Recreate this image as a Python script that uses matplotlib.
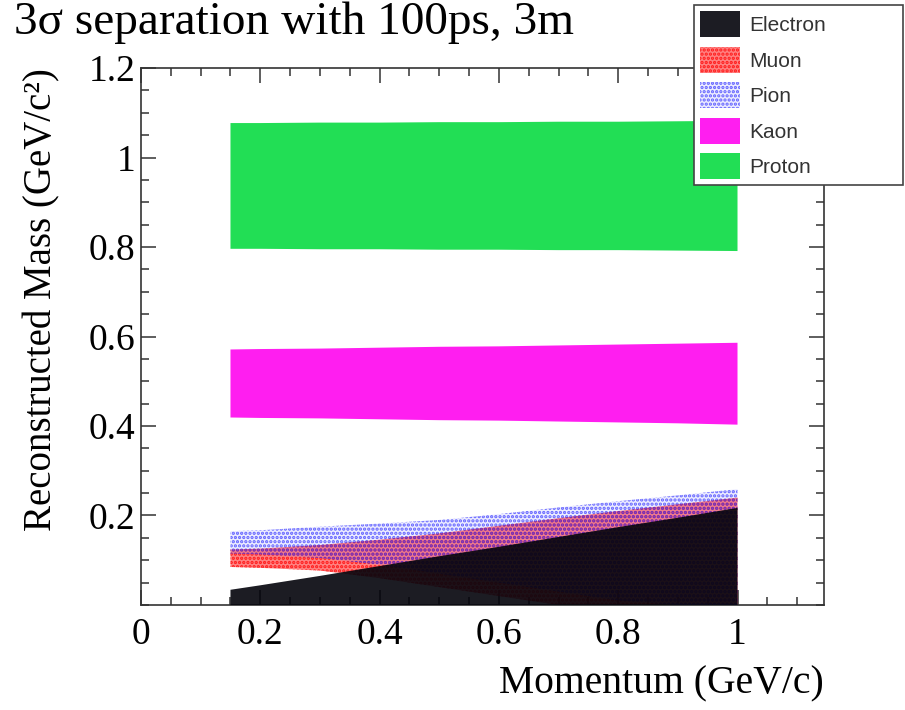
import matplotlib
matplotlib.use("Agg")
import matplotlib.pyplot as plt
from matplotlib.ticker import MultipleLocator, FixedLocator, FixedFormatter
from matplotlib.legend_handler import HandlerTuple

# Band edges (momentum in GeV/c, mass in GeV/c^2)
momentum = [0.15, 0.2, 0.3, 0.4, 0.5, 0.6, 0.7, 0.8, 0.9, 1.0]

electron_lo = [0.0, 0.0, 0.0, 0.0, 0.0, 0.0, 0.0, 0.0, 0.0, 0.0]
electron_hi = [0.034, 0.044, 0.065, 0.087, 0.109, 0.130, 0.152, 0.174, 0.195, 0.217]

muon_lo = [0.085, 0.083, 0.077, 0.060, 0.040, 0.020, 0.0, 0.0, 0.0, 0.0]
muon_hi = [0.124, 0.126, 0.134, 0.146, 0.160, 0.177, 0.194, 0.210, 0.225, 0.240]

pion_lo = [0.115, 0.113, 0.105, 0.090, 0.070, 0.050, 0.030, 0.010, 0.0, 0.0]
pion_hi = [0.165, 0.167, 0.175, 0.182, 0.190, 0.203, 0.218, 0.232, 0.245, 0.259]

kaon_lo = [0.419, 0.418, 0.417, 0.415, 0.413, 0.412, 0.410, 0.408, 0.406, 0.403]
kaon_hi = [0.571, 0.572, 0.573, 0.575, 0.577, 0.578, 0.580, 0.582, 0.584, 0.586]

proton_lo = [0.796, 0.796, 0.795, 0.795, 0.794, 0.794, 0.793, 0.793, 0.792, 0.791]
proton_hi = [1.077, 1.077, 1.078, 1.078, 1.079, 1.079, 1.080, 1.080, 1.081, 1.082]

labels = ["Electron", "Muon", "Pion", "Kaon", "Proton"]
y_ticks = [0.2, 0.4, 0.6, 0.8, 1.0, 1.2]
y_tick_labels = ["0.2", "0.4", "0.6", "0.8", "1", "1.2"]
x_ticks = [0, 0.2, 0.4, 0.6, 0.8, 1.0]
x_tick_labels = ["0", "0.2", "0.4", "0.6", "0.8", "1"]

plt.rcParams["font.family"] = ["Liberation Serif", "DejaVu Serif"]
plt.rcParams["hatch.linewidth"] = 1.6

fig = plt.figure(figsize=(9.05, 7.10), dpi=100)
ax = fig.add_axes([0.1558, 0.1479, 0.9105 - 0.1558, 0.9042 - 0.1479])

# muon: red dotted fill, see-through
h_m1 = ax.fill_between(momentum, muon_lo, muon_hi, facecolor=(1, 0.1, 0.1, 0.55),
                       edgecolor="none", linewidth=0, zorder=2)
h_m2 = ax.fill_between(momentum, muon_lo, muon_hi, facecolor="none",
                       edgecolor=(1, 0, 0, 0.8), hatch="....", linewidth=0, zorder=2)

# pion: blue dots on transparent
h_p1 = ax.fill_between(momentum, pion_lo, pion_hi, facecolor=(0.3, 0.3, 1, 0.10),
                       edgecolor="none", linewidth=0, zorder=3)
h_p2 = ax.fill_between(momentum, pion_lo, pion_hi, facecolor="none",
                       edgecolor=(0.2, 0.2, 1, 0.75), hatch="....", linewidth=0, zorder=3)

# electron: dark fill, lets a faint tint of the others through
h_e = ax.fill_between(momentum, electron_lo, electron_hi, facecolor=(0.02, 0.02, 0.05, 0.91),
                      edgecolor="none", linewidth=0, zorder=4)

h_k = ax.fill_between(momentum, kaon_lo, kaon_hi, facecolor="#ff1ef0",
                      edgecolor="none", linewidth=0, zorder=4)
h_pr = ax.fill_between(momentum, proton_lo, proton_hi, facecolor="#22de55",
                       edgecolor="none", linewidth=0, zorder=4)

ax.set_xlim(0, 1.145)
ax.set_ylim(0, 1.2)

ax.xaxis.set_major_locator(FixedLocator(x_ticks))
ax.xaxis.set_major_formatter(FixedFormatter(x_tick_labels))
ax.yaxis.set_major_locator(FixedLocator(y_ticks))
ax.yaxis.set_major_formatter(FixedFormatter(y_tick_labels))
ax.xaxis.set_minor_locator(MultipleLocator(0.05))
ax.yaxis.set_minor_locator(MultipleLocator(0.05))

ax.tick_params(which="both", direction="in", top=True, right=True,
               width=1.1, color="#333333", labelsize=27)
ax.tick_params(which="major", length=11)
ax.tick_params(which="minor", length=6)
ax.tick_params(axis="x", pad=9)
ax.tick_params(axis="y", pad=4)
for sp in ax.spines.values():
    sp.set_linewidth(1.2)
    sp.set_color("#333333")

ax.set_ylabel("Reconstructed Mass (GeV/c²)", fontsize=28, loc="top")
ax.yaxis.set_label_coords(-0.118, 1.0)
ax.set_xlabel("Momentum (GeV/c)", fontsize=28.5, loc="right")
ax.xaxis.set_label_coords(1.0, -0.112)

fig.text(14 / 905, 1 - 34 / 710, "3σ separation with 100ps, 3m",
         fontsize=34, va="baseline", ha="left")

leg = fig.legend(
    [h_e, (h_m1, h_m2), (h_p1, h_p2), h_k, h_pr], labels,
    handler_map={tuple: HandlerTuple(ndivide=1, pad=0)},
    loc="upper left", mode="expand",
    bbox_to_anchor=(694 / 905, 1 - 183 / 710, 209 / 905, 178 / 710),
    prop={"family": "Liberation Sans", "size": 15},
    handlelength=1.9, handleheight=1.55, labelspacing=0.45,
    handletextpad=0.45, borderpad=0.3, borderaxespad=0,
    fancybox=False, framealpha=1, edgecolor="#444444",
)
leg.get_frame().set_linewidth(1.2)
for t in leg.get_texts():
    t.set_color("#333333")

plt.savefig("out.png", dpi=100)
